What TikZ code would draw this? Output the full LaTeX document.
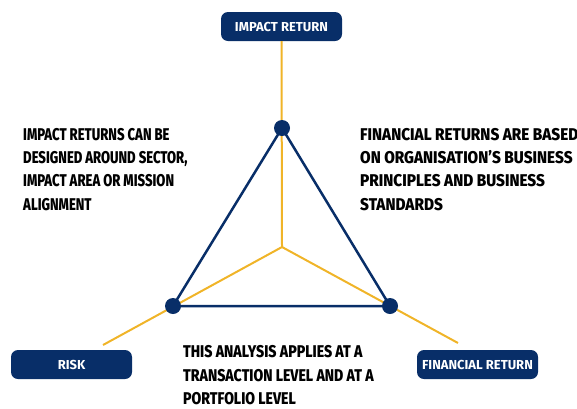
\documentclass[tikz,border=0pt]{standalone}
\usepackage{fontspec}
\setmainfont{Fira Sans}
\newfontfamily\condfont{Fira Sans ExtraBold}[FakeStretch=0.77]
\newfontfamily\condmidfont{Fira Sans ExtraBold}[FakeStretch=0.83]
\newfontfamily\condwidefont{Fira Sans ExtraBold}[FakeStretch=0.9]
\newfontfamily\boxfont{Fira Sans Bold}
\definecolor{navy}{RGB}{8,46,104}
\definecolor{gold}{RGB}{240,180,40}
\begin{document}
\begin{tikzpicture}[x=1pt,y=-1pt,
  labelbox/.style={fill=navy,rounded corners=7pt,minimum width=121pt,minimum height=29pt,inner sep=0pt,
    text=white,font=\boxfont\fontsize{13}{14}\selectfont},
  dot/.style={circle,fill=navy,minimum size=16pt,inner sep=0pt},
  edge/.style={draw=navy,line width=2.5pt},
  spoke/.style={draw=gold,line width=2pt},
  note/.style={anchor=base west,align=left,inner sep=0pt,
    font=\condfont\fontsize{17}{23.3}\selectfont},
  midnote/.style={note,font=\condmidfont\fontsize{17}{23.3}\selectfont},
  widenote/.style={note,font=\condwidefont\fontsize{17}{23.3}\selectfont}]
\useasboundingbox (0,0) rectangle (577,408);
\node[labelbox] (ir) at (281.5,26.5) {IMPACT RETURN};
\node[labelbox] (risk) at (71.5,364.5) {RISK};
\node[labelbox] (fr) at (477.5,364.5) {FINANCIAL RETURN};
\coordinate (c) at (282,247);
\coordinate (top) at (282,128);
\coordinate (left) at (173,306);
\coordinate (right) at (390,306);
\coordinate (lend) at (103,345);
\coordinate (rend) at (458,343);
\draw[spoke] (c) -- (ir.south);
\draw[spoke] (c) -- (lend);
\draw[spoke] (c) -- (rend);
\draw[edge] (top) -- (left) -- (right) -- cycle;
\node[dot] (dt) at (top) {};
\node[dot] (dl) at (left) {};
\node[dot] (dr) at (right) {};
\node[note] (t1) at (23,210) {IMPACT RETURNS CAN BE\\DESIGNED AROUND SECTOR,\\IMPACT AREA OR MISSION\\ALIGNMENT};
\node[widenote] (t2) at (360,210) {FINANCIAL RETURNS ARE BASED\\ON ORGANISATION’S BUSINESS\\PRINCIPLES AND BUSINESS\\STANDARDS};
\node[midnote] (t3) at (183,404.5) {THIS ANALYSIS APPLIES AT A\\TRANSACTION LEVEL AND AT A\\PORTFOLIO LEVEL};
\end{tikzpicture}
\end{document}
